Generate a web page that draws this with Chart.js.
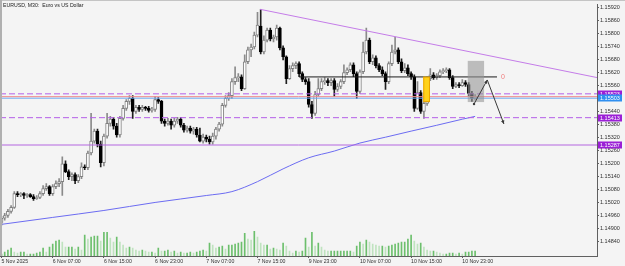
<!DOCTYPE html>
<html><head><meta charset="utf-8">
<script src="https://cdn.jsdelivr.net/npm/chart.js@4.4.0/dist/chart.umd.min.js"></script>
<style>html,body{margin:0;padding:0;background:#f4f4f4;overflow:hidden}#wrap{width:625px;height:266px}</style>
</head><body><div id="wrap"><canvas id="c" width="625" height="266"></canvas></div>
<script>
const chartTitle = 'EURUSD, M30:  Euro vs US Dollar';
const openP = [1.14930,1.14949,1.14962,1.14981,1.14999,1.15063,1.15058,1.15063,1.15054,1.15058,
1.15049,1.15040,1.15045,1.15063,1.15086,1.15095,1.15063,1.15095,1.15109,1.15118,
1.15200,1.15164,1.15141,1.15150,1.15122,1.15141,1.15186,1.15182,1.15250,1.15305,
1.15351,1.15291,1.15205,1.15328,1.15387,1.15406,1.15374,1.15333,1.15410,1.15456,
1.15488,1.15502,1.15442,1.15461,1.15451,1.15461,1.15456,1.15447,1.15451,1.15497,
1.15488,1.15397,1.15387,1.15397,1.15378,1.15397,1.15406,1.15378,1.15355,1.15365,
1.15351,1.15360,1.15333,1.15305,1.15323,1.15314,1.15301,1.15328,1.15360,1.15383,
1.15470,1.15502,1.15515,1.15579,1.15598,1.15602,1.15547,1.15671,1.15726,1.15739,
1.15794,1.15835,1.15716,1.15771,1.15817,1.15776,1.15785,1.15826,1.15735,1.15694,
1.15593,1.15639,1.15653,1.15662,1.15616,1.15589,1.15579,1.15474,1.15433,1.15520,
1.15547,1.15579,1.15584,1.15575,1.15584,1.15543,1.15557,1.15579,1.15621,1.15634,
1.15657,1.15616,1.15534,1.15625,1.15716,1.15771,1.15671,1.15689,1.15653,1.15634,
1.15616,1.15579,1.15662,1.15716,1.15726,1.15671,1.15630,1.15643,1.15616,1.15602,
1.15456,1.15529,1.15442,1.15479,1.15593,1.15611,1.15598,1.15607,1.15625,1.15630,
1.15634,1.15598,1.15557,1.15566,1.15561,1.15575,1.15566,1.15525,1.15502];
const highP = [1.14958,1.14972,1.14990,1.15008,1.15072,1.15072,1.15068,1.15068,1.15063,1.15063,
1.15058,1.15054,1.15072,1.15100,1.15109,1.15100,1.15104,1.15122,1.15132,1.15232,
1.15214,1.15173,1.15159,1.15159,1.15150,1.15205,1.15196,1.15259,1.15433,1.15360,
1.15360,1.15305,1.15337,1.15433,1.15419,1.15415,1.15387,1.15419,1.15470,1.15497,
1.15515,1.15515,1.15470,1.15470,1.15470,1.15465,1.15465,1.15461,1.15511,1.15506,
1.15493,1.15406,1.15410,1.15406,1.15410,1.15415,1.15415,1.15387,1.15374,1.15374,
1.15369,1.15369,1.15365,1.15337,1.15333,1.15328,1.15342,1.15369,1.15392,1.15479,
1.15515,1.15529,1.15593,1.15648,1.15616,1.15611,1.15703,1.15739,1.15753,1.15808,
1.15899,1.15913,1.15790,1.15826,1.15826,1.15794,1.15840,1.15831,1.15744,1.15698,
1.15653,1.15666,1.15671,1.15671,1.15625,1.15598,1.15593,1.15488,1.15534,1.15593,
1.15593,1.15598,1.15593,1.15593,1.15593,1.15570,1.15589,1.15657,1.15643,1.15666,
1.15666,1.15625,1.15634,1.15762,1.15826,1.15780,1.15703,1.15698,1.15662,1.15648,
1.15625,1.15671,1.15748,1.15785,1.15735,1.15685,1.15662,1.15657,1.15625,1.15611,
1.15579,1.15538,1.15488,1.15602,1.15639,1.15621,1.15616,1.15634,1.15639,1.15643,
1.15639,1.15607,1.15575,1.15575,1.15589,1.15584,1.15575,1.15534,1.15520];
const lowP = [1.14917,1.14940,1.14953,1.14972,1.14994,1.15049,1.15049,1.15040,1.15045,1.15045,
1.15031,1.15036,1.15040,1.15054,1.15077,1.15054,1.15054,1.15086,1.15095,1.15054,
1.15159,1.15127,1.15122,1.15109,1.15113,1.15132,1.15173,1.15173,1.15241,1.15296,
1.15278,1.15186,1.15191,1.15319,1.15374,1.15360,1.15323,1.15323,1.15401,1.15447,
1.15474,1.15410,1.15433,1.15442,1.15442,1.15447,1.15438,1.15438,1.15442,1.15479,
1.15387,1.15374,1.15378,1.15360,1.15369,1.15387,1.15369,1.15346,1.15346,1.15342,
1.15337,1.15323,1.15301,1.15296,1.15301,1.15291,1.15291,1.15314,1.15351,1.15374,
1.15461,1.15493,1.15502,1.15566,1.15579,1.15538,1.15543,1.15662,1.15694,1.15730,
1.15785,1.15707,1.15707,1.15762,1.15767,1.15762,1.15771,1.15726,1.15680,1.15570,
1.15589,1.15625,1.15639,1.15602,1.15579,1.15566,1.15461,1.15410,1.15424,1.15511,
1.15538,1.15566,1.15561,1.15561,1.15511,1.15534,1.15547,1.15570,1.15611,1.15625,
1.15602,1.15502,1.15525,1.15616,1.15707,1.15662,1.15657,1.15643,1.15625,1.15607,
1.15543,1.15570,1.15653,1.15707,1.15662,1.15621,1.15621,1.15607,1.15589,1.15442,
1.15451,1.15433,1.15410,1.15470,1.15584,1.15589,1.15589,1.15598,1.15616,1.15621,
1.15589,1.15547,1.15552,1.15552,1.15557,1.15557,1.15515,1.15488,1.15497];
const closeP = [1.14949,1.14962,1.14981,1.14999,1.15063,1.15058,1.15063,1.15054,1.15058,1.15049,
1.15040,1.15045,1.15063,1.15086,1.15095,1.15063,1.15095,1.15109,1.15118,1.15200,
1.15164,1.15141,1.15150,1.15122,1.15141,1.15186,1.15182,1.15250,1.15305,1.15351,
1.15291,1.15205,1.15328,1.15387,1.15406,1.15374,1.15333,1.15410,1.15456,1.15488,
1.15502,1.15442,1.15461,1.15451,1.15461,1.15456,1.15447,1.15451,1.15497,1.15488,
1.15397,1.15387,1.15397,1.15378,1.15397,1.15406,1.15378,1.15355,1.15365,1.15351,
1.15360,1.15333,1.15305,1.15323,1.15314,1.15301,1.15328,1.15360,1.15383,1.15470,
1.15502,1.15515,1.15579,1.15598,1.15602,1.15547,1.15671,1.15726,1.15739,1.15794,
1.15840,1.15716,1.15771,1.15817,1.15776,1.15785,1.15826,1.15735,1.15694,1.15593,
1.15639,1.15653,1.15662,1.15616,1.15589,1.15579,1.15474,1.15433,1.15520,1.15547,
1.15579,1.15584,1.15575,1.15584,1.15543,1.15557,1.15579,1.15621,1.15634,1.15657,
1.15616,1.15534,1.15625,1.15716,1.15771,1.15671,1.15689,1.15653,1.15634,1.15616,
1.15579,1.15662,1.15716,1.15726,1.15671,1.15630,1.15643,1.15616,1.15602,1.15456,
1.15529,1.15442,1.15479,1.15593,1.15611,1.15598,1.15607,1.15625,1.15630,1.15634,
1.15598,1.15557,1.15566,1.15561,1.15575,1.15566,1.15525,1.15502,1.15503];
const volume = [200,400,600,800,400,300,400,400,200,200,
200,300,400,800,400,900,1200,1500,1600,1400,
900,900,900,700,900,600,2100,1700,1900,2000,
2000,1500,2400,2400,1800,1400,1900,1400,1100,800,
900,800,600,500,600,500,400,400,300,800,
500,500,600,400,500,300,400,300,300,400,
300,400,500,600,500,1300,1100,800,900,1000,
700,1100,1100,1200,1300,1400,2300,1700,1600,2500,
1900,1300,1100,1100,700,800,700,600,1300,1000,
500,300,500,400,500,1800,900,2400,1000,1300,
900,600,500,500,500,500,500,500,500,500,
400,1000,1400,1200,1600,1400,1200,1100,1000,1000,
900,1000,1100,1200,1300,1400,1400,1700,2100,1500,
1200,1300,900,600,500,500,400,300,200,200,
300,300,200,300,200,400,400,500,500];
const maBars = [0,16,32,48,64,72,80,88,96,104,112,120,128,136,144,148];
const maValues = [1.14921,1.14953,1.14985,1.15022,1.15054,1.15072,1.15118,1.15177,1.15228,1.15259,1.15296,1.15323,1.15351,1.15378,1.15406,1.15419];
const xTickBars = [0,16,32,48,64,80,96,112,128,144];
const xTickLabels = ['5 Nov 2025','6 Nov 07:00','6 Nov 15:00','6 Nov 23:00','7 Nov 07:00','7 Nov 15:00','9 Nov 23:00','10 Nov 07:00','10 Nov 15:00','10 Nov 23:00'];
const yTicks = [1.14840,1.14900,1.14960,1.15020,1.15080,1.15140,1.15200,1.15260,1.15320,1.15380,1.15440,1.15500,1.15560,1.15620,1.15680,1.15740,1.15800,1.15860,1.15920];
const dashedLevels = [1.15523,1.15413];
const solidLevel = 1.15287;
const askLevel = 1.15510;
const bidLevel = 1.15503;
const trendBars = [80.78,186.1];
const trendPrices = [1.15913,1.15598];
const blackLineBars = [92.97,154.84];
const blackLinePrice = 1.15601;
const yellowBoxBars = [131.8,133.9];
const yellowBoxPrices = [1.15602,1.15485];
const greyBoxBars = [145.7,150.8];
const greyBoxPrices = [1.15675,1.15485];
const pathBars = [147.66,151.8,157.0];
const pathPrices = [1.15476,1.15587,1.15384];
const markText = '0';
const markBar = 156.7;
const markPrice = 1.15602;

const xMin = -0.47, xMax = 186.09, yMin = 1.14775, yMax = 1.15936;
const FONT = "'Liberation Sans', Arial, sans-serif";
Chart.defaults.font.family = FONT;

function hLine(p, color, dash, x0, x1){
  return {type:'line', data:[{x:x0===undefined?xMin:x0,y:p},{x:x1===undefined?xMax:x1,y:p}], borderColor:color, borderWidth:1, borderDash:dash||[], pointRadius:0, order:-1, yAxisID:'y'};
}
const isBull = i => closeP[i] >= openP[i];

const overlay = {
  id:'overlay',
  beforeDraw(chart){const c=chart.ctx;c.save();c.fillStyle='#f4f4f4';c.fillRect(0,0,chart.width,chart.height);c.restore();},
  afterDatasetsDraw(chart){
    const c = chart.ctx, x = chart.scales.x, y = chart.scales.y, a = chart.chartArea;
    c.save();
    c.beginPath(); c.rect(a.left,a.top,a.right-a.left,a.bottom-a.top); c.clip();
    let x0=x.getPixelForValue(yellowBoxBars[0]), x1=x.getPixelForValue(yellowBoxBars[1]);
    let y0=y.getPixelForValue(yellowBoxPrices[0]), y1=y.getPixelForValue(yellowBoxPrices[1]);
    c.fillStyle='#ffd21a'; c.fillRect(x0,y0,x1-x0,y1-y0);
    c.strokeStyle='#e8a400'; c.lineWidth=1; c.strokeRect(x0+0.5,y0+0.5,x1-x0-1,y1-y0-1);
    x0=x.getPixelForValue(greyBoxBars[0]); x1=x.getPixelForValue(greyBoxBars[1]);
    y0=y.getPixelForValue(greyBoxPrices[0]); y1=y.getPixelForValue(greyBoxPrices[1]);
    c.fillStyle='rgba(150,150,150,0.6)'; c.fillRect(x0,y0,x1-x0,y1-y0);
    const pts = pathBars.map((b,k)=>[x.getPixelForValue(b), y.getPixelForValue(pathPrices[k])]);
    c.strokeStyle='#3a3a3a'; c.fillStyle='#3a3a3a'; c.lineWidth=1;
    c.beginPath(); c.moveTo(pts[0][0],pts[0][1]);
    for(let k=1;k<pts.length;k++) c.lineTo(pts[k][0],pts[k][1]);
    c.stroke();
    for(let k=1;k<pts.length;k++){
      const [ax,ay]=pts[k-1],[bx,by]=pts[k];
      const ang=Math.atan2(by-ay,bx-ax);
      c.beginPath(); c.moveTo(bx,by);
      c.lineTo(bx-4*Math.cos(ang-0.45),by-4*Math.sin(ang-0.45));
      c.lineTo(bx-4*Math.cos(ang+0.45),by-4*Math.sin(ang+0.45));
      c.closePath(); c.fill();
    }
    c.beginPath(); c.arc(pts[0][0],pts[0][1],1.2,0,Math.PI*2); c.fill();
    c.fillStyle='#f07c7c'; c.font='7px '+FONT; c.textAlign='center'; c.textBaseline='middle';
    c.fillText(markText, x.getPixelForValue(markBar), y.getPixelForValue(markPrice));
    c.restore();
    c.save();
    const tags = [[dashedLevels[0],'#9b1fd6'],[bidLevel,'#2f8ff0'],[dashedLevels[1],'#9b1fd6'],[solidLevel,'#9b1fd6']];
    c.font='5.5px '+FONT; c.textAlign='left'; c.textBaseline='middle';
    tags.forEach(([p,col])=>{
      const py = y.getPixelForValue(p);
      c.fillStyle=col; c.fillRect(598,Math.round(py)-3.5,24,7);
      c.fillStyle='#ffffff'; c.fillText(p.toFixed(5),600,Math.round(py)+0.2);
    });
    c.fillStyle='#1a1a1a'; c.font='5.2px '+FONT; c.textAlign='left'; c.textBaseline='middle';
    c.fillText(chartTitle,3,6);
    c.fillStyle='#c4c4c4'; c.fillRect(0,0,625,1);
    c.fillStyle='#b0b0b0'; c.fillRect(0,0,2,a.bottom);
    c.restore();
  }
};

new Chart(document.getElementById('c'), {
  type:'bar',
  data:{datasets:[
    {type:'bar', label:'body', data:openP.map((o,i)=>({x:i,y:[Math.min(o,closeP[i]),Math.max(o,closeP[i])]})),
     barThickness:3, grouped:false, minBarLength:1, borderWidth:1, borderSkipped:false,
     backgroundColor:ctx=>isBull(ctx.dataIndex)?'#ffffff':'#000000',
     borderColor:ctx=>isBull(ctx.dataIndex)?'#808080':'#000000', order:0},
    {type:'bar', label:'wick', data:lowP.map((l,i)=>({x:i,y:[l,highP[i]]})),
     barThickness:1, grouped:false, borderWidth:0,
     backgroundColor:ctx=>isBull(ctx.dataIndex)?'#8a8a8a':'#202020', order:1},
    {type:'bar', label:'volume', yAxisID:'yv', data:volume.map((v,i)=>({x:i,y:v})),
     barThickness:1, grouped:false, borderWidth:0,
     backgroundColor:ctx=>{const i=ctx.dataIndex;return (i===0||volume[i]>=volume[i-1])?'#6cbf6c':'#bfe3bf';}, order:2},
    {type:'line', label:'MA', data:maBars.map((b,k)=>({x:b,y:maValues[k]})), borderColor:'#6c6cf2', borderWidth:1,
     pointRadius:0, cubicInterpolationMode:'monotone', order:3, yAxisID:'y'},
    hLine(dashedLevels[0],'#b45ee8',[6,3]),
    hLine(dashedLevels[1],'#b45ee8',[6,3]),
    hLine(solidLevel,'#b466e0'),
    hLine(askLevel,'#f08c8c'),
    hLine(bidLevel,'#6aa8f2'),
    hLine(blackLinePrice,'#1a1a1a',[],blackLineBars[0],blackLineBars[1]),
    {type:'line', data:trendBars.map((b,k)=>({x:b,y:trendPrices[k]})), borderColor:'#c47ce8', borderWidth:1, pointRadius:0, order:-1, yAxisID:'y'}
  ]},
  options:{
    responsive:false, animation:false, devicePixelRatio:1,
    layout:{padding:{left:0,top:2,right:0,bottom:0}},
    plugins:{legend:{display:false}, tooltip:{enabled:false}},
    scales:{
      x:{type:'linear', min:xMin, max:xMax, offset:false,
        grid:{display:true, drawOnChartArea:false, drawTicks:true, tickLength:2, color:'#606060', offset:false},
        border:{display:true, color:'#606060'},
        afterBuildTicks:s=>{s.ticks = xTickBars.map(v=>({value:v}));},
        afterFit:s=>{s.height=10;},
        ticks:{autoSkip:false, maxRotation:0, minRotation:0, align:'start', padding:0.5, color:'#303030', font:{size:5.2},
          callback:v=>{const k=xTickBars.indexOf(v);return k>=0?xTickLabels[k]:'';}}},
      y:{type:'linear', position:'right', min:yMin, max:yMax,
        grid:{display:true, drawOnChartArea:false, drawTicks:true, tickLength:2, color:'#606060'},
        border:{display:true, color:'#606060'},
        afterBuildTicks:s=>{s.ticks = yTicks.map(v=>({value:v}));},
        afterFit:s=>{s.width=28;},
        ticks:{autoSkip:false, padding:1, color:'#303030', font:{size:5.5}, callback:v=>v.toFixed(5)}},
      yv:{type:'linear', display:false, min:0, max:25400}
    }
  },
  plugins:[overlay]
});
</script></body></html>
